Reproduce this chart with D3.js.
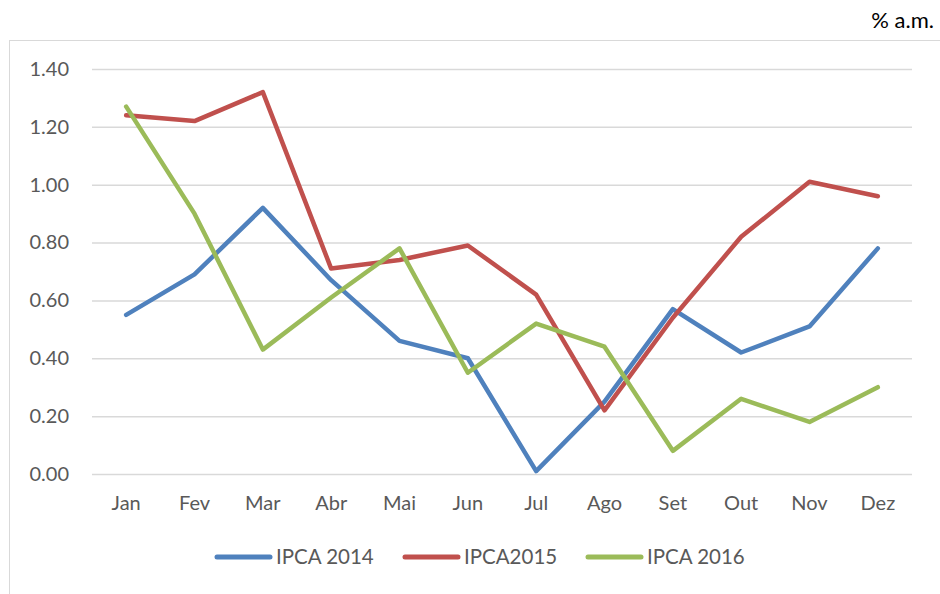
<!DOCTYPE html>
<html><head><meta charset="utf-8">
<script src="https://cdn.jsdelivr.net/npm/d3@7"></script>
<style>body{margin:0;background:#fff;} svg{display:block;font-family:Lato,"Open Sans",sans-serif;}</style>
</head><body>
<script>
const months = ["Jan","Fev","Mar","Abr","Mai","Jun","Jul","Ago","Set","Out","Nov","Dez"];
const ipca2014 = [0.55,0.69,0.92,0.67,0.46,0.40,0.01,0.25,0.57,0.42,0.51,0.78];
const ipca2015 = [1.24,1.22,1.32,0.71,0.74,0.79,0.62,0.22,0.54,0.82,1.01,0.96];
const ipca2016 = [1.27,0.90,0.43,0.61,0.78,0.35,0.52,0.44,0.08,0.26,0.18,0.30];
const seriesNames = ["IPCA 2014","IPCA2015","IPCA 2016"];
const yTicks = [0,0.2,0.4,0.6,0.8,1.0,1.2,1.4];
const colors = ["#4F81BD","#C0504D","#9BBB59"];
const series = [ipca2014, ipca2015, ipca2016];

const W=940,H=594;
const svg=d3.select("body").append("svg").attr("width",W).attr("height",H);
svg.append("rect").attr("x",9.5).attr("y",40.5).attr("width",W).attr("height",H).attr("fill","none").attr("stroke","#d9d9d9").attr("stroke-width",1);
svg.append("text").attr("x",934).attr("y",28).attr("text-anchor","end").attr("font-size",22).attr("fill","#000").text("% a.m.");

const x=d3.scaleBand().domain(months).range([92,912]);
const y=d3.scaleLinear().domain([0,1.4]).range([474,69]);

const gy=svg.append("g").attr("transform","translate(92,0)").call(d3.axisLeft(y).tickValues(yTicks).tickFormat(d3.format(".2f")).tickSize(-820).tickPadding(23));
gy.select(".domain").remove();
gy.selectAll(".tick line").attr("stroke","#d9d9d9").attr("stroke-width",1.5);
gy.selectAll(".tick text").attr("fill","#595959").attr("font-size",20).attr("font-family","Lato,'Open Sans',sans-serif");

const gx=svg.append("g").attr("transform","translate(0,474)").call(d3.axisBottom(x).tickSize(0).tickPadding(22));
gx.select(".domain").remove();
gx.selectAll(".tick text").attr("fill","#595959").attr("font-size",20).attr("font-family","Lato,'Open Sans',sans-serif");

const line=d3.line().x((d,i)=>x(months[i])+x.bandwidth()/2).y(d=>y(d));
series.forEach((s,k)=>{
  svg.append("path").datum(s).attr("d",line).attr("fill","none").attr("stroke",colors[k]).attr("stroke-width",4.5).attr("stroke-linejoin","round").attr("stroke-linecap","round");
});

const legX=[217,405,588];
seriesNames.forEach((n,k)=>{
  const g=svg.append("g").attr("transform",`translate(${legX[k]},557)`);
  g.append("line").attr("x1",0).attr("x2",53).attr("y1",0).attr("y2",0).attr("stroke",colors[k]).attr("stroke-width",5).attr("stroke-linecap","round");
  g.append("text").attr("x",59).attr("y",7).attr("font-size",20.5).attr("fill","#595959").text(n);
});
</script>
</body></html>
